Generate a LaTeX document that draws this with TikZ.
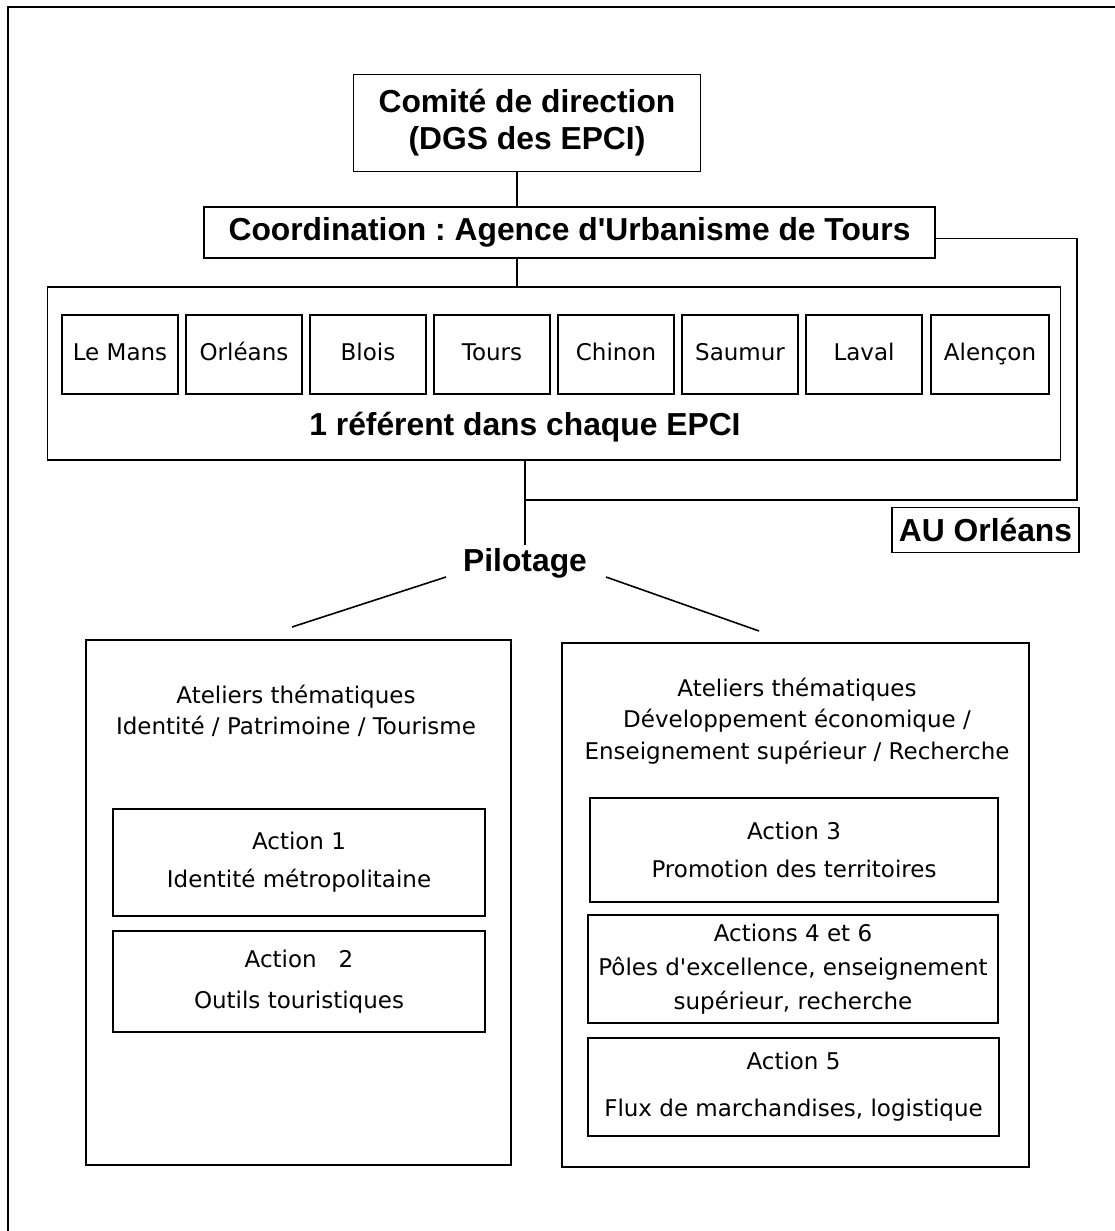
\documentclass[tikz,border=0pt]{standalone}
\usepackage{fontspec}
\setmainfont{DejaVu Sans}
\newfontfamily\headfont{Liberation Sans}
\usetikzlibrary{positioning}
\frenchspacing

\begin{document}
\begin{tikzpicture}[
  x=1pt, y=-1pt,
  box/.style={rectangle, draw, line width=1.6pt, inner sep=0pt, align=center},
  head/.style={font=\headfont\bfseries\fontsize{31.8}{37}\selectfont},
  city/.style={box, minimum width=116pt, minimum height=79pt, text height=17pt, text depth=5pt, font=\fontsize{23}{28}\selectfont},
  act/.style={box, font=\fontsize{23}{38}\selectfont},
  title/.style={align=center, font=\fontsize{23}{31.7}\selectfont},
  link/.style={line width=1.6pt}
]
\useasboundingbox (0,0) rectangle (1115,1231);

% Frame
\draw[link] (8,1231) -- (8,7) -- (1115,7);

% Top: steering committee
\node[box, head, minimum width=347pt, minimum height=97pt] (comite) at (527,123) {Comité de direction\\(DGS des EPCI)};

% Coordination
\node[box, head, minimum width=731pt, minimum height=51pt] (coord) at (569.5,232.5) {Coordination : Agence d\textquotesingle Urbanisme de Tours};

\draw[link] ([xshift=-10pt]comite.south) -- ([xshift=-10pt]comite.south |- coord.north);

% EPCI with one box per city
\node[box, minimum width=1013pt, minimum height=173pt] (epci) at (554,373.5) {};
\node[city] (lemans) at (120,354.5) {Le Mans};
\node[city] (orleans) at (244,354.5) {Orléans};
\node[city] (blois) at (368,354.5) {Blois};
\node[city] (tours) at (492,354.5) {Tours};
\node[city] (chinon) at (616,354.5) {Chinon};
\node[city] (saumur) at (740,354.5) {Saumur};
\node[city] (laval) at (864,354.5) {Laval};
\node[city, minimum width=118pt] (alencon) at (990,354.5) {Alençon};
\node[head] (referent) at (525,427) {1 référent dans chaque EPCI};

\draw[link] ([xshift=-10pt]comite.south |- coord.south) -- ([xshift=-10pt]comite.south |- epci.north);

% Pilotage
\node[head] (pilot) at (525,563) {Pilotage};
\node[box, head, minimum width=187pt, minimum height=45pt] (auorleans) at (985.5,530) {AU Orléans};

\coordinate (turn) at (1077,500);
\draw[link] ([yshift=-6pt]coord.east) -| (turn) -- (turn -| pilot.north);
\draw[link] (pilot.north |- epci.south) -- (pilot.north);

\coordinate (lend) at (292,627);
\coordinate (rend) at (759,631);
\draw[link] ([xshift=-79pt,yshift=-14pt]pilot.center) -- (lend);
\draw[link] ([xshift=81pt,yshift=-14pt]pilot.center) -- (rend);

% Left workshop
\node[box, minimum width=425pt, minimum height=525pt] (lbox) at (298.5,902.5) {};
\node[title] (ltitle) at (296,711) {Ateliers thématiques\\Identité / Patrimoine / Tourisme};
\node[act, minimum width=372pt, minimum height=107pt] (act1) at (299,862.5) {Action 1\\Identité métropolitaine};
\node[act, minimum width=372pt, minimum height=101pt, font=\fontsize{23}{41.7}\selectfont] (act2) at (299,981.5) {Action~~~2\\Outils touristiques};

% Right workshop
\node[box, minimum width=467pt, minimum height=524pt] (rbox) at (795.5,905) {};
\node[title] (rtitle) at (797,721) {Ateliers thématiques\\Développement économique /\\Enseignement supérieur / Recherche};
\node[act, minimum width=408pt, minimum height=104pt] (act3) at (794,850) {Action 3\\Promotion des territoires};
\node[act, minimum width=410pt, minimum height=108pt, font=\fontsize{23}{34}\selectfont] (act46) at (793,969) {Actions 4 et 6\\Pôles d\textquotesingle excellence, enseignement\\supérieur, recherche};
\node[act, minimum width=411pt, minimum height=98pt, font=\fontsize{23}{47}\selectfont] (act5) at (793.5,1087) {Action 5\\Flux de marchandises, logistique};

\end{tikzpicture}
\end{document}
